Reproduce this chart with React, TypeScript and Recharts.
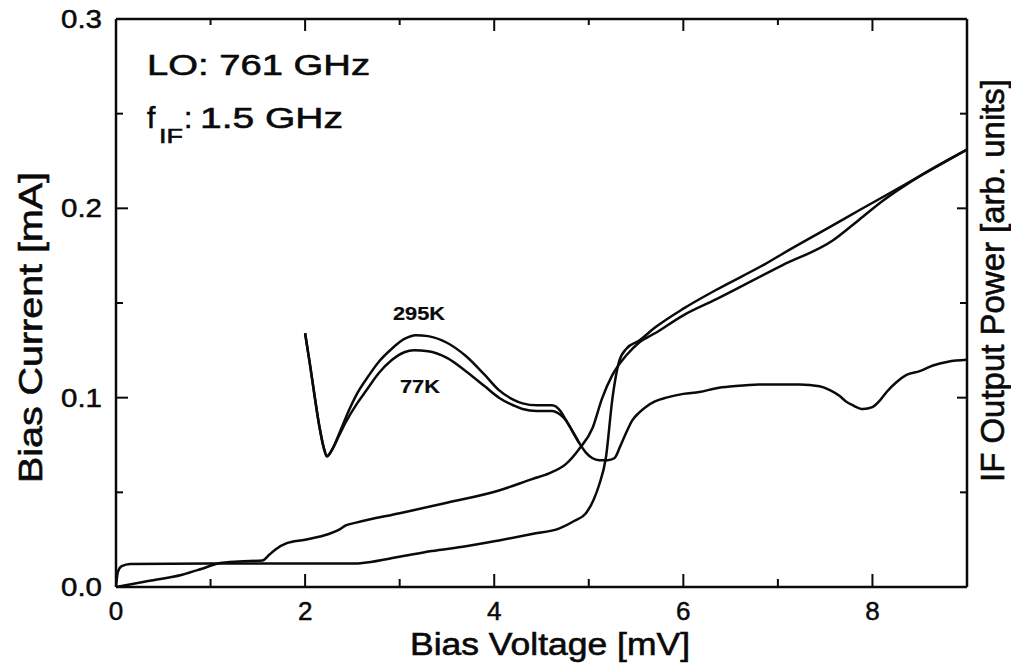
import React from "react";
import { LineChart, Line, XAxis, YAxis } from "recharts";

type P = { x: number; y: number };

// Unpumped I-V curve (Bias Current [mA] vs Bias Voltage [mV])
const unpumpedIV: P[] = [
  { x: 0, y: 0 }, { x: 0.02, y: 0.008 }, { x: 0.06, y: 0.011 }, { x: 0.15, y: 0.0122 },
  { x: 1.0, y: 0.0124 }, { x: 2.0, y: 0.0124 }, { x: 2.5, y: 0.0124 }, { x: 2.65, y: 0.013 },
  { x: 3.0, y: 0.016 }, { x: 3.34, y: 0.019 }, { x: 3.7, y: 0.0215 }, { x: 4.05, y: 0.0246 },
  { x: 4.4, y: 0.028 }, { x: 4.69, y: 0.031 }, { x: 4.85, y: 0.035 }, { x: 4.97, y: 0.039 },
  { x: 5.05, y: 0.046 }, { x: 5.11, y: 0.054 }, { x: 5.18, y: 0.068 }, { x: 5.25, y: 0.0995 },
  { x: 5.32, y: 0.119 }, { x: 5.4, y: 0.126 }, { x: 5.53, y: 0.130 }, { x: 5.7, y: 0.137 },
  { x: 6.0, y: 0.147 }, { x: 6.35, y: 0.157 }, { x: 6.88, y: 0.171 }, { x: 7.05, y: 0.176 },
  { x: 7.58, y: 0.191 }, { x: 7.86, y: 0.199 }, { x: 8.11, y: 0.206 }, { x: 8.5, y: 0.217 },
  { x: 9.0, y: 0.231 },
];

// LO-pumped I-V curve
const pumpedIV: P[] = [
  { x: 0, y: 0 }, { x: 0.3, y: 0.0028 }, { x: 0.7, y: 0.0065 }, { x: 0.9, y: 0.0095 },
  { x: 1.09, y: 0.0126 }, { x: 1.3, y: 0.0135 }, { x: 1.55, y: 0.014 }, { x: 1.62, y: 0.017 },
  { x: 1.69, y: 0.020 }, { x: 1.8, y: 0.023 }, { x: 2.0, y: 0.025 }, { x: 2.25, y: 0.028 },
  { x: 2.35, y: 0.030 }, { x: 2.43, y: 0.0325 }, { x: 2.54, y: 0.034 }, { x: 3.0, y: 0.039 },
  { x: 3.5, y: 0.0445 }, { x: 4.05, y: 0.051 }, { x: 4.4, y: 0.057 }, { x: 4.58, y: 0.060 },
  { x: 4.76, y: 0.065 }, { x: 4.9, y: 0.073 }, { x: 5.04, y: 0.084 }, { x: 5.14, y: 0.0995 },
  { x: 5.25, y: 0.112 }, { x: 5.4, y: 0.1225 }, { x: 5.53, y: 0.129 }, { x: 5.7, y: 0.134 },
  { x: 6.0, y: 0.1435 }, { x: 6.35, y: 0.152 }, { x: 7.05, y: 0.170 }, { x: 7.58, y: 0.183 },
  { x: 7.86, y: 0.194 }, { x: 8.11, y: 0.204 }, { x: 8.5, y: 0.217 }, { x: 9.0, y: 0.231 },
];

// IF output power, 295 K load
const if295K: P[] = [
  { x: 2.0, y: 0.134 }, { x: 2.05, y: 0.118 }, { x: 2.1, y: 0.101 }, { x: 2.15, y: 0.085 },
  { x: 2.2, y: 0.073 }, { x: 2.23, y: 0.069 }, { x: 2.29, y: 0.073 }, { x: 2.36, y: 0.081 },
  { x: 2.47, y: 0.094 }, { x: 2.56, y: 0.103 }, { x: 2.65, y: 0.110 }, { x: 2.78, y: 0.119 },
  { x: 2.92, y: 0.126 }, { x: 3.05, y: 0.131 }, { x: 3.17, y: 0.133 }, { x: 3.3, y: 0.1325 },
  { x: 3.5, y: 0.129 }, { x: 3.7, y: 0.122 }, { x: 3.9, y: 0.112 }, { x: 4.05, y: 0.104 },
  { x: 4.2, y: 0.099 }, { x: 4.3, y: 0.097 }, { x: 4.45, y: 0.096 }, { x: 4.61, y: 0.096 },
  { x: 4.7, y: 0.093 }, { x: 4.76, y: 0.088 }, { x: 4.83, y: 0.082 }, { x: 4.9, y: 0.076 },
  { x: 4.97, y: 0.071 }, { x: 5.04, y: 0.068 }, { x: 5.11, y: 0.067 }, { x: 5.2, y: 0.067 },
  { x: 5.27, y: 0.068 }, { x: 5.33, y: 0.074 }, { x: 5.4, y: 0.082 }, { x: 5.46, y: 0.088 },
  { x: 5.53, y: 0.092 }, { x: 5.6, y: 0.095 }, { x: 5.7, y: 0.098 }, { x: 5.82, y: 0.100 },
  { x: 6.0, y: 0.102 }, { x: 6.17, y: 0.103 }, { x: 6.35, y: 0.105 }, { x: 6.52, y: 0.106 },
  { x: 6.8, y: 0.107 }, { x: 7.0, y: 0.107 }, { x: 7.23, y: 0.107 }, { x: 7.44, y: 0.106 },
  { x: 7.55, y: 0.104 }, { x: 7.65, y: 0.101 }, { x: 7.72, y: 0.098 }, { x: 7.79, y: 0.096 },
  { x: 7.9, y: 0.094 }, { x: 8.0, y: 0.095 }, { x: 8.07, y: 0.098 }, { x: 8.15, y: 0.103 },
  { x: 8.25, y: 0.108 }, { x: 8.36, y: 0.112 }, { x: 8.5, y: 0.114 }, { x: 8.64, y: 0.117 },
  { x: 8.8, y: 0.119 }, { x: 9.0, y: 0.120 },
];

// IF output power, 77 K load
const if77K: P[] = [
  { x: 2.0, y: 0.134 }, { x: 2.05, y: 0.118 }, { x: 2.1, y: 0.101 }, { x: 2.15, y: 0.085 },
  { x: 2.2, y: 0.073 }, { x: 2.23, y: 0.069 }, { x: 2.29, y: 0.073 }, { x: 2.36, y: 0.080 },
  { x: 2.43, y: 0.087 }, { x: 2.55, y: 0.097 }, { x: 2.65, y: 0.104 }, { x: 2.78, y: 0.113 },
  { x: 2.92, y: 0.120 }, { x: 3.05, y: 0.124 }, { x: 3.15, y: 0.125 }, { x: 3.3, y: 0.1245 },
  { x: 3.5, y: 0.121 }, { x: 3.7, y: 0.114 }, { x: 3.9, y: 0.106 }, { x: 4.05, y: 0.100 },
  { x: 4.2, y: 0.096 }, { x: 4.3, y: 0.094 }, { x: 4.45, y: 0.093 }, { x: 4.61, y: 0.093 },
  { x: 4.7, y: 0.091 }, { x: 4.76, y: 0.088 }, { x: 4.83, y: 0.082 }, { x: 4.9, y: 0.076 },
];

const xTicks = [0, 1, 2, 3, 4, 5, 6, 7, 8, 9];
const xTopTicks = [1, 2, 3, 4, 5, 6, 7, 8];
const yTicks = [0, 0.05, 0.1, 0.15, 0.2, 0.25, 0.3];

const W = 1011;
const H = 669;
const FONT = "'Liberation Sans', Arial, Helvetica, sans-serif";
const INK = "#0a0a0a";

const isMajorX = (v: number) => Math.round(v) % 2 === 0;
const isMajorY = (v: number) => Math.round(v * 100) % 10 === 0;

const BottomTick = (props: any) => {
  const { x, y, payload } = props;
  const v = payload.value;
  const major = isMajorX(v);
  return (
    <g>
      <line x1={x} y1={y} x2={x} y2={y - (major ? 13 : 8)} stroke={INK} strokeWidth={2} />
      {major && v !== 9 ? (
        <text x={x} y={y + 33} textAnchor="middle" fontSize={26} fontFamily={FONT} fill={INK} stroke={INK} strokeWidth={0.5}>
          {v}
        </text>
      ) : null}
    </g>
  );
};

const TopTick = (props: any) => {
  const { x, y, payload } = props;
  const major = isMajorX(payload.value);
  return <line x1={x} y1={y} x2={x} y2={y + (major ? 12 : 6)} stroke={INK} strokeWidth={2} />;
};

const LeftTick = (props: any) => {
  const { x, y, payload } = props;
  const v = payload.value;
  const major = isMajorY(v);
  return (
    <g>
      <line x1={x} y1={y} x2={x + (major ? 12 : 7)} y2={y} stroke={INK} strokeWidth={2} />
      {major ? (
        <text
          x={x - 14}
          y={y + 9}
          textAnchor="end"
          fontSize={26}
          fontFamily={FONT}
          fill={INK}
          stroke={INK}
          strokeWidth={0.5}
          textLength={41}
          lengthAdjust="spacingAndGlyphs"
        >
          {v.toFixed(1)}
        </text>
      ) : null}
    </g>
  );
};

const RightTick = (props: any) => {
  const { x, y, payload } = props;
  const major = isMajorY(payload.value);
  return <line x1={x} y1={y} x2={x - (major ? 10 : 7)} y2={y} stroke={INK} strokeWidth={2} />;
};

const axisLineStyle = { stroke: INK, strokeWidth: 2.5 };

export default function App() {
  const lineProps = {
    type: "monotone" as const,
    dataKey: "y",
    stroke: INK,
    strokeWidth: 2.5,
    dot: false,
    activeDot: false,
    isAnimationActive: false,
  };
  return (
    <div style={{ position: "absolute", left: 0, top: 0, width: W, height: H, background: "#fff" }}>
      <LineChart width={W} height={H} margin={{ top: 18, right: 43, bottom: 81, left: 115 }}>
        <XAxis
          xAxisId={0}
          type="number"
          dataKey="x"
          domain={[0, 9]}
          ticks={xTicks}
          interval={0}
          height={1}
          tickSize={0}
          tickMargin={0}
          axisLine={axisLineStyle}
          tickLine={false}
          tick={<BottomTick />}
          allowDataOverflow
        />
        <XAxis
          xAxisId="top"
          orientation="top"
          type="number"
          dataKey="x"
          domain={[0, 9]}
          ticks={xTopTicks}
          interval={0}
          height={1}
          tickSize={0}
          tickMargin={0}
          axisLine={axisLineStyle}
          tickLine={false}
          tick={<TopTick />}
          allowDataOverflow
        />
        <YAxis
          yAxisId={0}
          type="number"
          domain={[0, 0.3]}
          ticks={yTicks}
          interval={0}
          width={1}
          tickSize={0}
          tickMargin={0}
          axisLine={axisLineStyle}
          tickLine={false}
          tick={<LeftTick />}
          allowDataOverflow
        />
        <YAxis
          yAxisId="right"
          orientation="right"
          type="number"
          domain={[0, 0.3]}
          ticks={yTicks}
          interval={0}
          width={1}
          tickSize={0}
          tickMargin={0}
          axisLine={axisLineStyle}
          tickLine={false}
          tick={<RightTick />}
          allowDataOverflow
        />
        <Line {...lineProps} data={unpumpedIV} name="Unpumped I-V" />
        <Line {...lineProps} data={pumpedIV} name="Pumped I-V" />
        <Line {...lineProps} data={if295K} name="IF 295K" />
        <Line {...lineProps} data={if77K} name="IF 77K" />
      </LineChart>
      <svg
        width={W}
        height={H}
        style={{ position: "absolute", left: 0, top: 0, pointerEvents: "none" }}
        fontFamily={FONT}
        fill={INK}
        stroke={INK}
        strokeWidth={0.6}
      >
        <text x={147} y={75} fontSize={30} textLength={223} lengthAdjust="spacingAndGlyphs">
          LO: 761 GHz
        </text>
        <text x={147} y={128} fontSize={30}>
          f
        </text>
        <text x={159} y={143} fontSize={21} textLength={24} lengthAdjust="spacingAndGlyphs">
          IF
        </text>
        <text x={184} y={128} fontSize={30}>
          :
        </text>
        <text x={200} y={128} fontSize={30} textLength={143} lengthAdjust="spacingAndGlyphs">
          1.5 GHz
        </text>
        <text x={393} y={320} fontSize={18} fontWeight={700} strokeWidth={0.2} textLength={52} lengthAdjust="spacingAndGlyphs">
          295K
        </text>
        <text x={400} y={393} fontSize={18} fontWeight={700} strokeWidth={0.2} textLength={40} lengthAdjust="spacingAndGlyphs">
          77K
        </text>
        <text x={410} y={655} fontSize={31} textLength={280} lengthAdjust="spacingAndGlyphs">
          Bias Voltage [mV]
        </text>
        <text
          transform="translate(42,483) rotate(-90)"
          fontSize={33}
          textLength={311}
          lengthAdjust="spacingAndGlyphs"
        >
          Bias Current [mA]
        </text>
        <text
          transform="translate(1004,482) rotate(-90)"
          fontSize={33}
          textLength={403}
          lengthAdjust="spacingAndGlyphs"
        >
          IF Output Power [arb. units]
        </text>
      </svg>
    </div>
  );
}
